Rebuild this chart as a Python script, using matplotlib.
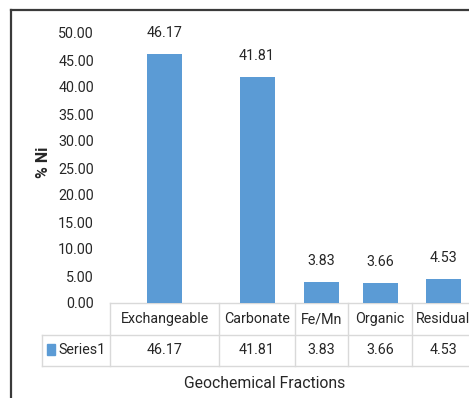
import matplotlib
matplotlib.use("Agg")
import matplotlib.pyplot as plt
from matplotlib import font_manager

# ---- data ----
categories = ["Exchangeable", "Carbonate", "Fe/Mn", "Organic", "Residual"]
values = [46.17, 41.81, 3.83, 3.66, 4.53]
series_name = "Series1"
y_ticks = [0, 5, 10, 15, 20, 25, 30, 35, 40, 45, 50]
y_label = "% Ni"
x_label = "Geochemical Fractions"

# ---- style / layout (pixel units of the canvas) ----
W, H = 469, 398
BAR_COLOR = "#5B9BD5"
TEXT_COLOR = "#262626"
GRID_COLOR = "#D9D9D9"
FRAME_COLOR = "#3A3A3A"

available = {f.name for f in font_manager.fontManager.ttflist}
family = "Roboto" if "Roboto" in available else "DejaVu Sans"
plt.rcParams["font.family"] = [family, "DejaVu Sans"]
FS = 10.3

col_widths = [109, 76, 53, 64, 62]       # widths of the category columns
table_left = 110
label_cell_left = 42
plot_top, plot_base = 33, 303
row1_bottom, row2_bottom = 335, 366
bar_width = 35

col_edges = [table_left]
for w in col_widths:
    col_edges.append(col_edges[-1] + w)
centers = [(a + b) / 2 for a, b in zip(col_edges[:-1], col_edges[1:])]

fig = plt.figure(figsize=(W / 100, H / 100), dpi=100)

# ---- bar chart ----
ax = fig.add_axes([table_left / W, (H - plot_base) / H,
                   (col_edges[-1] - table_left) / W, (plot_base - plot_top) / H])
ax.bar(centers, values, width=bar_width, color=BAR_COLOR, zorder=2)
ax.set_xlim(col_edges[0], col_edges[-1])
ax.set_ylim(0, 50)
ax.set_yticks(y_ticks)
ax.set_yticklabels([f"{t:.2f}" for t in y_ticks], fontsize=FS, color=TEXT_COLOR)
ax.tick_params(axis="y", length=0, pad=11.5)
ax.set_xticks([])
for s in ax.spines.values():
    s.set_visible(False)
ax.patch.set_alpha(0)

for c, v in zip(centers, values):
    ax.annotate(f"{v:.2f}", (c, v), xytext=(0, 15.0), textcoords="offset points",
                ha="center", va="center", fontsize=FS, color=TEXT_COLOR)

# ---- overlay for data table, titles and frame ----
ov = fig.add_axes([0, 0, 1, 1], zorder=-1)
ov.set_xlim(0, W)
ov.set_ylim(H, 0)
ov.axis("off")

lw = 1.0
right = col_edges[-1]
# horizontal rules
ov.plot([table_left, right], [plot_base, plot_base], color=GRID_COLOR, lw=lw)
ov.plot([label_cell_left, right], [row1_bottom, row1_bottom], color=GRID_COLOR, lw=lw)
ov.plot([label_cell_left, right], [row2_bottom, row2_bottom], color=GRID_COLOR, lw=lw)
# vertical rules
for x in col_edges:
    ov.plot([x, x], [plot_base, row2_bottom], color=GRID_COLOR, lw=lw)
ov.plot([label_cell_left, label_cell_left], [row1_bottom, row2_bottom], color=GRID_COLOR, lw=lw)

row1_mid = (plot_base + row1_bottom) / 2
row2_mid = (row1_bottom + row2_bottom) / 2
for c, cat, v in zip(centers, categories, values):
    ov.text(c, row1_mid, cat, ha="center", va="center", fontsize=FS, color=TEXT_COLOR)
    ov.text(c, row2_mid, f"{v:.2f}", ha="center", va="center", fontsize=FS, color=TEXT_COLOR)

# legend key inside the series cell
ov.add_patch(plt.Rectangle((47, 344), 8, 11, color=BAR_COLOR))
ov.text(58, row2_mid, series_name, ha="left", va="center", fontsize=FS, color=TEXT_COLOR)

# axis titles
ov.text(265, 383, x_label, ha="center", va="center", fontsize=11.3, color=TEXT_COLOR)
ov.text(43, 162, y_label, ha="center", va="center", rotation=90, fontsize=11.5,
        fontweight="bold", color=TEXT_COLOR)

# outer chart frame
ov.plot([11, 11], [10, H + 5], color=FRAME_COLOR, lw=1.6, solid_capstyle="projecting")
ov.plot([11, W + 5], [10, 10], color=FRAME_COLOR, lw=1.6, solid_capstyle="projecting")

fig.savefig("out.png", dpi=100, facecolor="white")
